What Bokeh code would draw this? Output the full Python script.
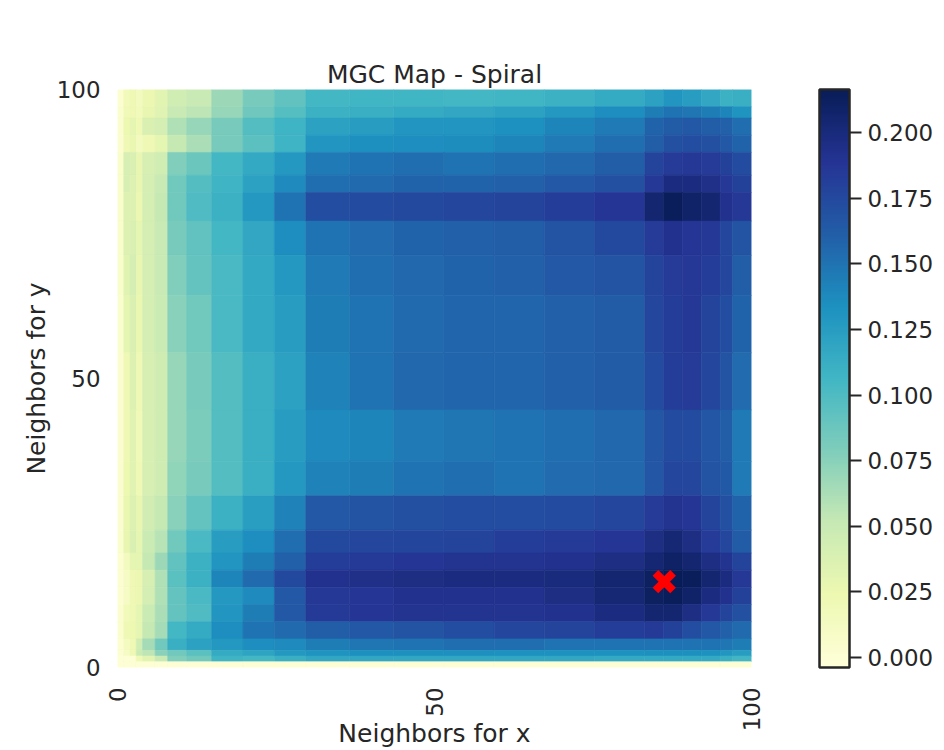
from math import pi
import numpy as np
from bokeh.embed import file_html
from bokeh.resources import INLINE
from bokeh.plotting import figure
from bokeh.models import (ColumnDataSource, LinearColorMapper, ColorBar, FixedTicker,
                          PrintfTickFormatter, Range1d)
from bokeh.transform import transform

x_edges = [0,1,2,3,4,6,8,11,15,20,25,30,37,44,52,60,68,76,84,87,90,93,96,98,101]
y_edges = [101,98,96,93,90,86,83,78,72,65,55,45,36,30,24,20,17,14,11,8,5,3,2,1,0]
# statistic x 1000, rows listed from top to bottom
cell_values = [
 [2,18,22,15,25,32,45,50,68,82,92,105,107,107,105,107,110,115,122,130,125,118,110,112],
 [4,20,22,18,28,34,50,55,70,86,97,110,112,115,118,122,128,135,145,150,148,145,140,132],
 [3,24,30,22,38,42,60,70,82,98,108,122,126,130,130,133,140,146,158,163,165,162,160,152],
 [3,22,26,15,22,30,52,62,82,94,108,130,134,135,136,140,146,152,162,170,172,170,165,158],
 [5,40,38,28,40,45,78,88,105,116,128,146,150,152,150,152,156,162,178,184,186,184,180,174],
 [6,40,35,28,42,50,85,98,108,122,138,152,155,158,158,160,165,170,186,198,198,194,186,180],
 [6,35,35,25,42,52,85,100,110,128,150,172,174,175,176,178,182,188,205,214,208,205,192,186],
 [5,35,38,30,42,50,82,92,105,118,135,150,154,158,160,162,168,175,184,192,188,186,176,168],
 [5,34,42,28,42,50,78,90,102,116,128,146,152,156,158,160,165,168,178,184,186,182,176,162],
 [4,30,38,26,42,48,75,85,102,116,125,145,150,155,157,157,160,163,176,182,186,178,172,158],
 [3,22,36,22,40,46,70,82,98,112,122,142,150,156,157,157,160,163,174,182,184,176,168,154],
 [3,22,34,20,40,46,70,80,98,112,125,138,140,146,148,150,152,156,166,174,174,166,161,146],
 [3,24,34,22,40,46,72,82,98,112,128,142,145,150,152,150,154,156,166,176,176,168,164,146],
 [3,26,36,28,44,52,75,90,110,124,142,165,168,170,172,172,174,176,184,190,188,178,170,158],
 [4,28,38,30,48,58,85,102,125,135,152,175,176,177,178,182,185,188,196,203,196,184,176,163],
 [2,15,30,30,52,68,92,110,130,145,160,182,185,188,190,190,192,196,204,210,205,196,190,178],
 [2,10,22,25,40,60,95,110,140,155,175,192,194,196,198,198,200,205,212,216,214,205,198,186],
 [2,10,22,25,42,60,90,102,128,138,165,186,188,192,192,192,196,203,212,215,208,198,192,180],
 [3,18,22,30,48,62,90,100,130,145,165,185,188,190,190,190,192,198,205,205,196,186,178,170],
 [4,22,24,30,52,65,105,115,135,150,155,162,165,168,172,176,178,182,185,180,172,165,160,155],
 [2,14,22,45,65,85,112,122,128,135,138,145,148,150,152,152,150,150,150,150,150,150,148,145],
 [2,10,22,48,55,75,85,95,115,120,128,132,134,134,134,133,133,133,134,134,134,133,130,125],
 [0,0,0,22,32,50,78,85,108,105,112,118,118,118,118,118,118,116,116,116,116,116,112,106],
 [0,0,0,0,0,0,0,0,0,0,0,0,0,0,0,0,0,0,0,0,0,0,0,0],
]
optimal_x = [87.1]
optimal_y = [15.0]
tick_positions = [0, 50.5, 101]
tick_labels = ["0", "50", "100"]
colorbar_ticks = [0.0, 0.025, 0.05, 0.075, 0.1, 0.125, 0.15, 0.175, 0.2]
value_low, value_high = -0.0038, 0.2164

stops = ["#ffffd9", "#edf8b1", "#c7e9b4", "#7fcdbb", "#41b6c4", "#1d91c0", "#225ea8", "#253494", "#081d58"]
rgb = np.array([[int(s[i:i+2], 16) for i in (1, 3, 5)] for s in stops], dtype=float)
pos = np.linspace(0, 1, 256)
palette = ["#%02x%02x%02x" % tuple(int(round(np.interp(t, np.linspace(0, 1, 9), rgb[:, c]))) for c in range(3))
           for t in pos]

left, right, top, bottom, val = [], [], [], [], []
for r, row in enumerate(cell_values):
    for c, v in enumerate(row):
        left.append(x_edges[c]); right.append(x_edges[c + 1])
        top.append(y_edges[r]); bottom.append(y_edges[r + 1])
        val.append(v / 1000)
source = ColumnDataSource(dict(left=left, right=right, top=top, bottom=bottom, val=val))
mapper = LinearColorMapper(palette=palette, low=value_low, high=value_high)

INK = "#262626"
p = figure(frame_width=634, frame_height=578, width=928, height=742,
           x_range=Range1d(0, 101), y_range=Range1d(0, 101),
           min_border_left=117, min_border_top=89, min_border_bottom=75, min_border_right=0,
           output_backend="svg", toolbar_location=None, title="MGC Map - Spiral",
           x_axis_label="Neighbors for x", y_axis_label="Neighbors for y")
p.quad(left="left", right="right", top="top", bottom="bottom", source=source,
       fill_color=transform("val", mapper), line_color=transform("val", mapper), line_width=0.6)
p.scatter(optimal_x, optimal_y, marker="x", size=25, line_color="#ff0000", line_width=8)

p.grid.visible = False
p.outline_line_color = None
p.title.align = "center"
p.title.text_font = "DejaVu Sans"
p.title.text_font_size = "25px"
p.title.text_font_style = "normal"
p.title.text_color = INK
p.title.standoff = 1
for ax in (p.xaxis[0], p.yaxis[0]):
    ax.ticker = FixedTicker(ticks=tick_positions)
    ax.major_label_overrides = dict(zip(tick_positions, tick_labels))
    ax.axis_line_color = None
    ax.major_tick_line_color = None
    ax.minor_tick_line_color = None
    ax.major_label_text_font = "DejaVu Sans"
    ax.major_label_text_font_size = "22.9px"
    ax.major_label_text_color = INK
    ax.axis_label_text_font = "DejaVu Sans"
    ax.axis_label_text_font_size = "25px"
    ax.axis_label_text_font_style = "normal"
    ax.axis_label_text_color = INK
p.xaxis[0].major_label_orientation = pi / 2
p.xaxis[0].major_label_standoff = 14
p.xaxis[0].axis_label_standoff = -15
p.yaxis[0].major_label_standoff = 11
p.yaxis[0].axis_label_standoff = 3

bar = ColorBar(color_mapper=mapper, ticker=FixedTicker(ticks=colorbar_ticks),
               formatter=PrintfTickFormatter(format="%.3f"),
               width=30, height=578, location=(68, 0), margin=0, padding=0,
               bar_line_color=INK, bar_line_width=2.5, major_tick_out=12, major_tick_in=0,
               major_tick_line_color=INK, major_tick_line_width=2, minor_tick_line_color=None,
               label_standoff=6, major_label_text_font="DejaVu Sans",
               major_label_text_font_size="22.9px", major_label_text_color=INK,
               background_fill_color=None, border_line_color=None)
p.add_layout(bar, "right")

open("out.html", "w").write(file_html(p, INLINE))
